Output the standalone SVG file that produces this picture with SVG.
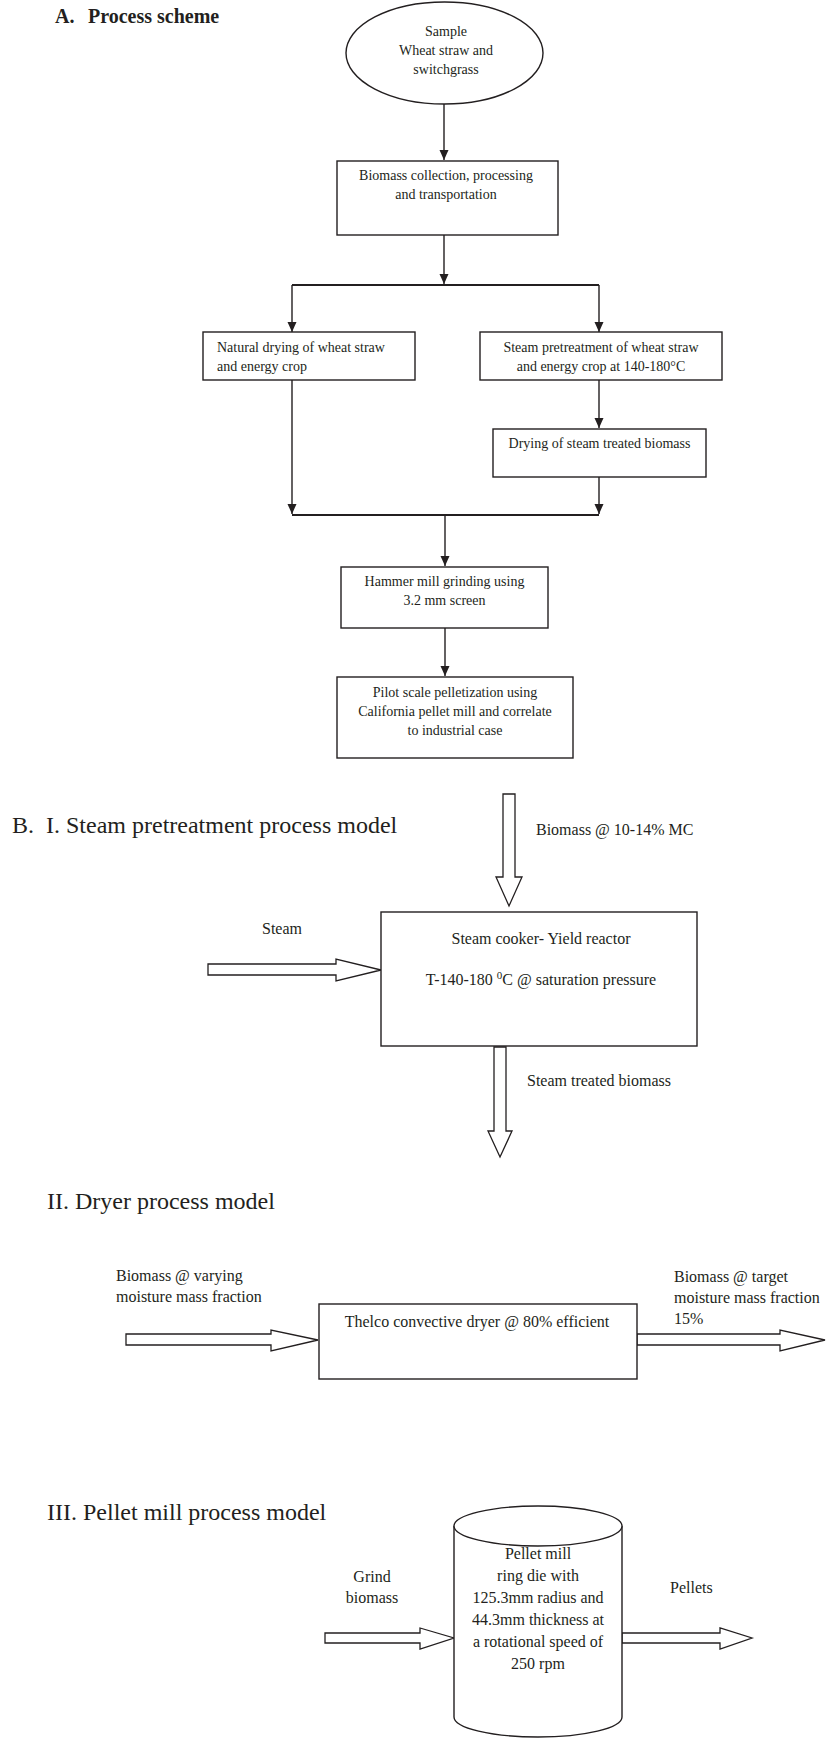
<svg xmlns="http://www.w3.org/2000/svg" width="826" height="1739" viewBox="0 0 826 1739">
<style>
text{font-family:"Liberation Serif","Times New Roman",serif;fill:#231f20}
.t14{font-size:14px}
.t16{font-size:16px}
.h24{font-size:24px}
.mid{text-anchor:middle}
.box{fill:#fff;stroke:#231f20;stroke-width:1.4}
.ln{fill:none;stroke:#231f20;stroke-width:1.4}
.bar{fill:none;stroke:#231f20;stroke-width:2}
.blk{fill:#fff;stroke:#231f20;stroke-width:1.3;stroke-linejoin:miter}
</style>
<defs>
<marker id="ah" markerUnits="userSpaceOnUse" markerWidth="11" markerHeight="10" refX="10" refY="4.5" orient="auto">
<path d="M0,0 L10,4.5 L0,9 z" fill="#231f20"/>
</marker>
</defs>
<rect width="826" height="1739" fill="#fff"/>

<text x="55" y="23" style="font-size:20px;font-weight:bold">A.</text>
<text x="88" y="23" style="font-size:20px;font-weight:bold">Process scheme</text>

<g id="connectors">
<path class="ln" d="M444,104 V160" marker-end="url(#ah)"/>
<path class="ln" d="M444,235 V284" marker-end="url(#ah)"/>
<path class="bar" d="M292,285 H599"/>
<path class="ln" d="M292,285 V332" marker-end="url(#ah)"/>
<path class="ln" d="M599,285 V332" marker-end="url(#ah)"/>
<path class="ln" d="M599,380 V428" marker-end="url(#ah)"/>
<path class="ln" d="M292,380 V514" marker-end="url(#ah)"/>
<path class="ln" d="M599,477 V514" marker-end="url(#ah)"/>
<path class="bar" d="M292,515 H599"/>
<path class="ln" d="M445,515 V566" marker-end="url(#ah)"/>
<path class="ln" d="M445,628 V676" marker-end="url(#ah)"/>
<polygon class="blk" points="208,964 336,964 336,959 381,970 336,981 336,975 208,975"/>
<polygon class="blk" points="503,794 515,794 515,877 522,877 509,906 496,877 503,877"/>
<polygon class="blk" points="494,1047 506,1047 506,1131 512,1131 500,1157 488,1131 494,1131"/>
<polygon class="blk" points="126,1334 271,1334 271,1330 318,1340 271,1351 271,1345 126,1345"/>
<polygon class="blk" points="637,1334 780,1334 780,1330 825,1340 780,1351 780,1345 637,1345"/>
<polygon class="blk" points="325,1633 420,1633 420,1628 454,1638 420,1649 420,1643 325,1643"/>
<polygon class="blk" points="622,1633 720,1633 720,1628 752,1638 720,1649 720,1643 622,1643"/>
</g>

<g id="sample">
<ellipse class="box" cx="444.5" cy="53" rx="98.5" ry="51"/>
<text class="t14 mid" x="446" y="36">Sample</text>
<text class="t14 mid" x="446" y="55">Wheat straw and</text>
<text class="t14 mid" x="446" y="74">switchgrass</text>
</g>

<g id="collection">
<rect class="box" x="337" y="161" width="221" height="74"/>
<text class="t14 mid" x="446" y="180">Biomass collection, processing</text>
<text class="t14 mid" x="446" y="199">and transportation</text>
</g>

<g id="natural-drying">
<rect class="box" x="203" y="332" width="212" height="48"/>
<text class="t14" x="217" y="352">Natural drying of wheat straw</text>
<text class="t14" x="217" y="371">and energy crop</text>
</g>

<g id="steam-pretreatment">
<rect class="box" x="480" y="332" width="242" height="48"/>
<text class="t14 mid" x="601" y="352">Steam pretreatment of wheat straw</text>
<text class="t14 mid" x="601" y="371">and energy crop at 140-180°C</text>
</g>

<g id="drying-steam">
<rect class="box" x="493" y="429" width="213" height="48"/>
<text class="t14 mid" x="599.5" y="448">Drying of steam treated biomass</text>
</g>

<g id="hammer-mill">
<rect class="box" x="341" y="567" width="207" height="61"/>
<text class="t14 mid" x="444.5" y="586">Hammer mill grinding using</text>
<text class="t14 mid" x="444.5" y="605">3.2 mm screen</text>
</g>

<g id="pelletization">
<rect class="box" x="337" y="677" width="236" height="81"/>
<text class="t14 mid" x="455" y="697">Pilot scale pelletization using</text>
<text class="t14 mid" x="455" y="716">California pellet mill and correlate</text>
<text class="t14 mid" x="455" y="735">to industrial case</text>
</g>

<text class="h24" x="12" y="833">B.</text>
<text class="h24" x="46" y="833">I. Steam pretreatment process model</text>

<g id="steam-cooker">
<rect class="box" x="381" y="912" width="316" height="134"/>
<text class="t16 mid" x="541" y="944">Steam cooker- Yield reactor</text>
<text class="t16 mid" x="541" y="985">T-140-180 <tspan dy="-6" style="font-size:11px">0</tspan><tspan dy="6">C @ saturation pressure</tspan></text>
</g>
<text class="t16" x="536" y="835">Biomass @ 10-14% MC</text>
<text class="t16 mid" x="282" y="934">Steam</text>
<text class="t16" x="527" y="1086">Steam treated biomass</text>

<text class="h24" x="47" y="1209">II. Dryer process model</text>

<g id="dryer">
<rect class="box" x="319" y="1304" width="318" height="75"/>
<text class="t16 mid" x="477" y="1327">Thelco convective dryer @ 80% efficient</text>
</g>
<text class="t16" x="116" y="1281">Biomass @ varying</text>
<text class="t16" x="116" y="1302">moisture mass fraction</text>
<text class="t16" x="674" y="1282">Biomass @ target</text>
<text class="t16" x="674" y="1303">moisture mass fraction</text>
<text class="t16" x="674" y="1324">15%</text>

<text class="h24" x="47" y="1520">III. Pellet mill process model</text>

<g id="pellet-mill">
<path class="box" d="M454,1526 V1717 A84,20 0 0 0 622,1717 V1526"/>
<ellipse class="box" cx="538" cy="1526" rx="84" ry="20"/>
<text class="t16 mid" x="538" y="1559">Pellet mill</text>
<text class="t16 mid" x="538" y="1581">ring die with</text>
<text class="t16 mid" x="538" y="1603">125.3mm radius and</text>
<text class="t16 mid" x="538" y="1625">44.3mm thickness at</text>
<text class="t16 mid" x="538" y="1647">a rotational speed of</text>
<text class="t16 mid" x="538" y="1669">250 rpm</text>
</g>
<text class="t16 mid" x="372" y="1582">Grind</text>
<text class="t16 mid" x="372" y="1603">biomass</text>
<text class="t16" x="670" y="1593">Pellets</text>
</svg>
